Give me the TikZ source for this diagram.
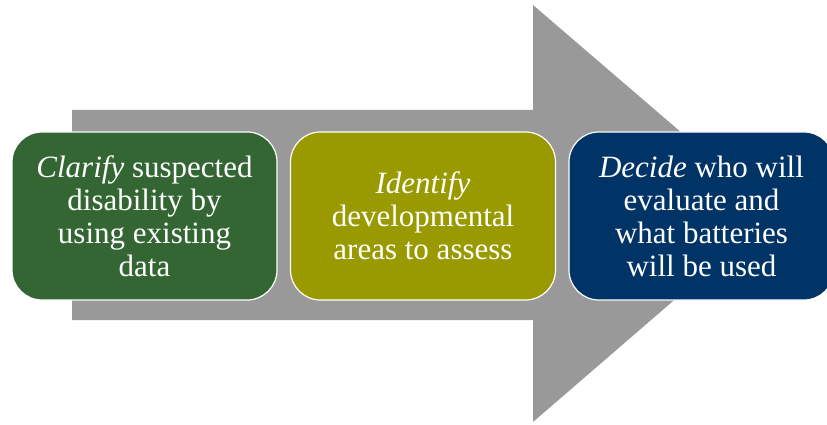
\documentclass[tikz,border=0pt]{standalone}
\usepackage{fontspec}
\setmainfont{Liberation Serif}
\definecolor{arrowgray}{RGB}{153,153,153}
\definecolor{boxgreen}{RGB}{51,102,51}
\definecolor{boxolive}{RGB}{153,153,0}
\definecolor{boxblue}{RGB}{0,51,102}
\tikzset{
  stepbox/.style={draw=white, line width=1.2pt, rounded corners=30pt, text=white,
    align=center, minimum width=265pt, minimum height=168pt, inner sep=0pt,
    font=\fontsize{31}{33}\selectfont}
}
\begin{document}
\begin{tikzpicture}[x=1pt,y=-1pt]
\useasboundingbox (0,0) rectangle (827,425);
\clip (0,0) rectangle (827,425);
\fill[arrowgray] (72,110) -- (533,110) -- (533,5) -- (775,213) -- (533,422) -- (533,320) -- (72,320) -- cycle;
\node[stepbox, fill=boxgreen] (b1) at (144.5,216) {\textit{Clarify} suspected\\disability by\\using existing\\data};
\node[stepbox, fill=boxolive] (b2) at (423,216) {\textit{Identify}\\developmental\\areas to assess};
\node[stepbox, fill=boxblue] (b3) at (701.5,216) {\textit{Decide} who will\\evaluate and\\what batteries\\will be used};
\end{tikzpicture}
\end{document}
